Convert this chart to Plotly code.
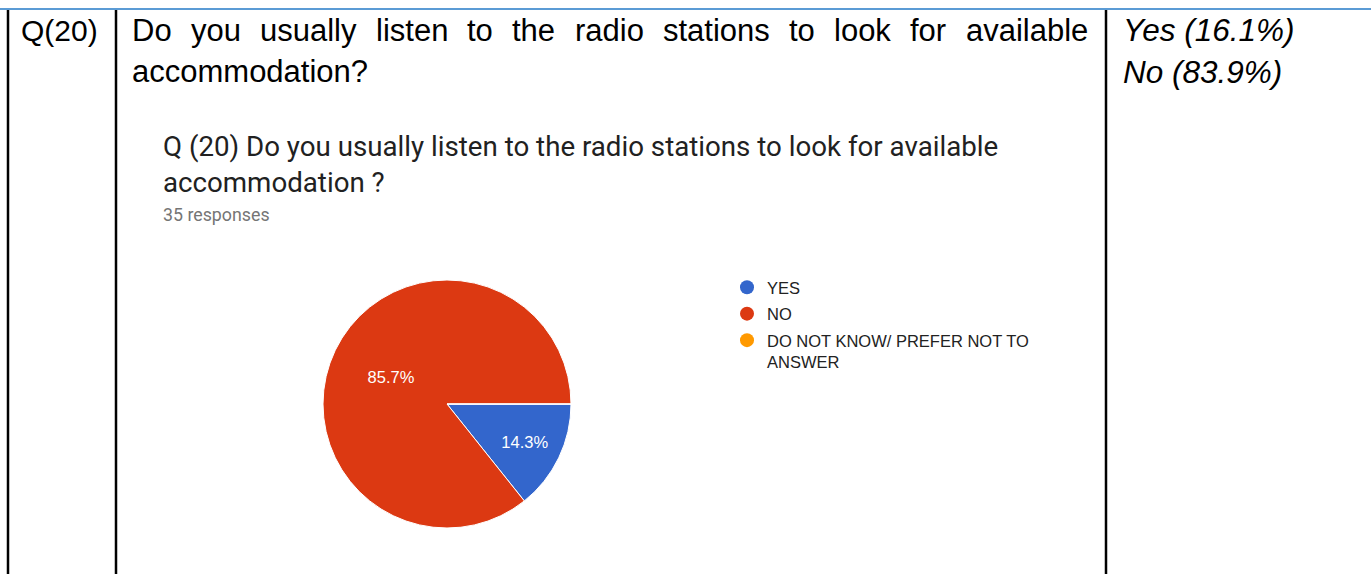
import plotly.graph_objects as go

W, H = 1371, 574

# ---- data ----
categories = ["YES", "NO", "DO NOT KNOW/ PREFER NOT TO<br>ANSWER"]
responses = [5, 30, 0]
colors = ["#3366CC", "#DC3912", "#FF9900"]
summary_labels = ["Yes (16.1%)", "No (83.9%)"]
question_id = "Q(20)"
question_words = ["Do", "you", "usually", "listen", "to", "the", "radio",
                  "stations", "to", "look", "for", "available"]
question_tail = "accommodation?"
chart_title = ["Q (20) Do you usually listen to the radio stations to look for available",
               "accommodation ?"]
n_responses = "35 responses"

# Arial / Liberation Sans advance widths (em) for justified layout
AW = {'D': .722, 'a': .556, 'b': .556, 'e': .556, 'f': .278, 'h': .556, 'i': .222,
      'k': .5, 'l': .222, 'n': .556, 'o': .556, 'r': .333, 's': .5, 't': .278,
      'u': .556, 'v': .5, 'y': .5, 'd': .556}

def px(x):
    return x / W

def py(y):
    return 1 - y / H

fig = go.Figure()

# pie
cx, cy, r = 447, 404, 124
fig.add_trace(go.Pie(
    labels=categories, values=responses,
    marker=dict(colors=colors, line=dict(color="white", width=1)),
    sort=False, direction="clockwise", rotation=90,
    textinfo="percent", texttemplate="%{percent:.1%}",
    textposition="inside", insidetextorientation="horizontal",
    textfont=dict(family="Arial, Liberation Sans", size=16.5, color="white"),
    domain=dict(x=[px(cx - r), px(cx + r)], y=[py(cy + r), py(cy - r)]),
    showlegend=False, hoverinfo="label+percent",
))

# legend entries (circle markers)
for i, (name, col) in enumerate(zip(categories, colors)):
    fig.add_trace(go.Scatter(x=[None], y=[None], mode="markers", name=name,
                             legendgroup="g%d" % i,
                             marker=dict(color=col, size=14, symbol="circle")))

shapes = []
# table borders
shapes.append(dict(type="line", xref="paper", yref="paper", x0=0, x1=1,
                   y0=py(9), y1=py(9), line=dict(color="#5B9BD5", width=2)))
for xv in [8, 116, 1106]:
    shapes.append(dict(type="line", xref="paper", yref="paper", x0=px(xv), x1=px(xv),
                       y0=py(10), y1=0, line=dict(color="black", width=2.5)))

ann = []

def note(x, y, text, size, family, color):
    ann.append(dict(x=px(x - 3), y=py(y), xref="paper", yref="paper", text=text,
                    xanchor="left", yanchor="middle", showarrow=False,
                    font=dict(family=family, size=size, color=color)))

FS = 31
ARIAL = "Arial, Liberation Sans"
# justified first line
widths = [sum(AW.get(c, .556) for c in w) * FS for w in question_words]
x0, x1 = 133, 1089
gap = (x1 - x0 - sum(widths)) / (len(question_words) - 1)
xpos = x0
for w, wd in zip(question_words, widths):
    note(xpos, 30, w, FS, ARIAL, "black")
    xpos += wd + gap
note(133, 72, question_tail, FS, ARIAL, "black")
note(22, 30, question_id, 30, ARIAL, "black")
for i, s in enumerate(summary_labels):
    note(1124, 30 + 42 * i, "<i>" + s + "</i>", 31.5, ARIAL, "black")
# chart title
for i, t in enumerate(chart_title):
    note(164, 146 + 37 * i, t, 27.7, "Roboto", "#212121")
note(164, 214, n_responses, 17.8, "Roboto", "#757575")

fig.update_layout(
    width=W, height=H, margin=dict(l=0, r=0, t=0, b=0),
    paper_bgcolor="white", plot_bgcolor="white",
    xaxis=dict(visible=False, domain=[0.6, 0.61]), yaxis=dict(visible=False, domain=[0.0, 0.01]),
    shapes=shapes, annotations=ann,
    legend=dict(x=px(727), y=py(270), xanchor="left", yanchor="top", valign="top",
                font=dict(family=ARIAL, size=16.5, color="#222222"),
                bgcolor="rgba(0,0,0,0)", tracegroupgap=2, itemclick=False),
)

fig.write_html("out.html")
